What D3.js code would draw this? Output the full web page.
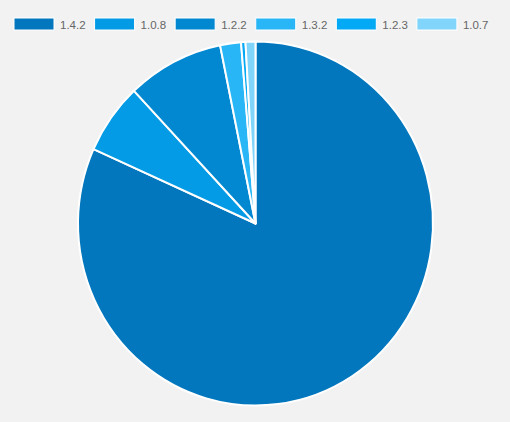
<!DOCTYPE html>
<html><head><meta charset="utf-8">
<script src="https://cdn.jsdelivr.net/npm/d3@7"></script>
<style>html,body{margin:0;padding:0;background:#f2f2f2;}svg{display:block;}</style>
</head><body>
<svg id="c" width="510" height="422"></svg>
<script>
const categories = ["1.4.2", "1.0.8", "1.2.2", "1.3.2", "1.2.3", "1.0.7"];
const values = [81.7, 6.3, 8.8, 1.9, 0.4, 0.9];
const colors = ["#0277bd", "#039be5", "#0288d1", "#29b6f6", "#03a9f4", "#81d4fa"];

const svg = d3.select("#c");
const W = 510;
const data = categories.map((c, i) => ({cat: c, value: values[i], color: colors[i]}));

// legend
const font = "11.5px 'Liberation Sans', Arial, Helvetica, sans-serif";
const ctx = document.createElement("canvas").getContext("2d");
ctx.font = font;
const boxW = 40, boxH = 12, gapText = 6, itemPad = 9;
const widths = data.map(d => boxW + gapText + ctx.measureText(d.cat).width + itemPad);
let x0 = 14;
const legend = svg.append("g");
data.forEach((d, i) => {
  const g = legend.append("g").attr("transform", `translate(${x0},18)`);
  g.append("rect").attr("width", boxW).attr("height", boxH).attr("fill", d.color)
    .attr("stroke", "#fff").attr("stroke-width", 1);
  g.append("text").attr("x", boxW + gapText).attr("y", 10.5)
    .attr("fill", "#666").style("font", font).text(d.cat);
  x0 += widths[i];
});

// pie
const cx = 255.5, cy = 223.5, r = 177.5, sy = 182 / 177.5;
const pie = d3.pie().value(d => d.value).sort(null);
const arc = d3.arc().innerRadius(0).outerRadius(r);
const g = svg.append("g").attr("transform", `translate(${cx},${cy}) scale(1,${sy})`);
g.selectAll("path").data(pie(data)).enter().append("path")
  .attr("d", arc).attr("fill", d => d.data.color)
  .attr("stroke", "#fff").attr("stroke-width", 2).attr("stroke-linejoin", "round");
</script>
</body></html>
